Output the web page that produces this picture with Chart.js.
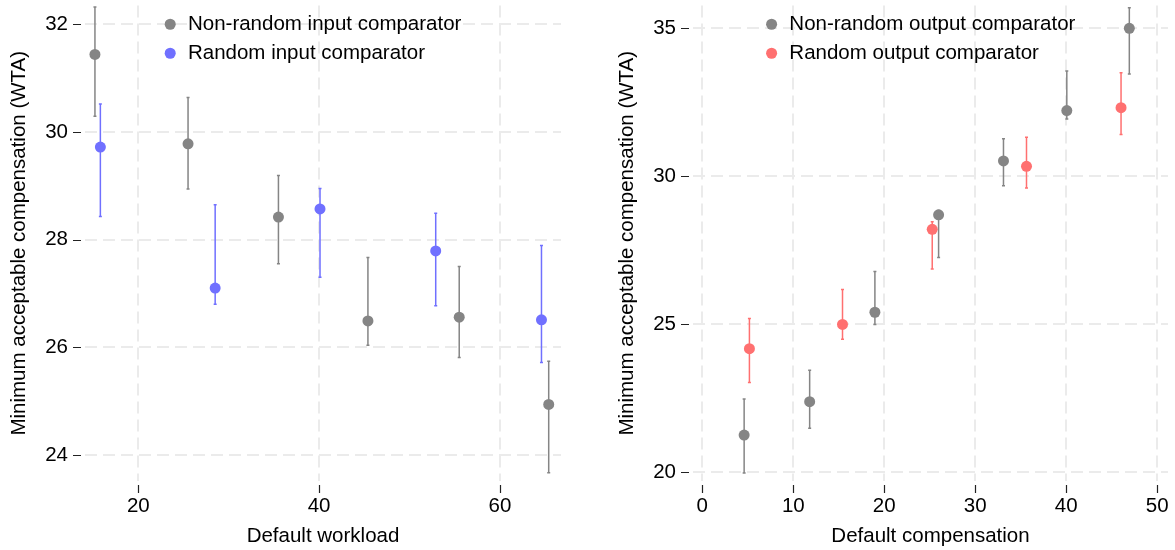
<!DOCTYPE html>
<html><head><meta charset="utf-8">
<script src="https://cdn.jsdelivr.net/npm/chart.js@4"></script>
<style>
html,body{margin:0;padding:0;background:#fff;width:1175px;height:550px;overflow:hidden}
canvas{position:absolute;top:0}
</style></head><body>
<canvas id="left" width="585" height="550" style="left:0"></canvas>
<canvas id="right" width="590" height="550" style="left:585px"></canvas>
<script>
// ---------- Left panel data ----------
const workloadNonRandom = [15.2, 25.5, 35.5, 45.4, 55.5, 65.4];
const wtaNonRandomInput = [31.44, 29.78, 28.42, 26.49, 26.56, 24.94];
const loNonRandomInput  = [30.29, 28.94, 27.55, 26.04, 25.81, 23.67];
const hiNonRandomInput  = [32.32, 30.64, 29.19, 27.67, 27.50, 25.74];

const workloadRandom = [15.8, 28.5, 40.1, 52.9, 64.6];
const wtaRandomInput = [29.72, 27.10, 28.57, 27.79, 26.51];
const loRandomInput  = [28.43, 26.80, 27.30, 26.77, 25.72];
const hiRandomInput  = [30.52, 28.65, 28.95, 28.49, 27.89];

const leftXTicks = [20, 40, 60];
const leftYTicks = [24, 26, 28, 30, 32];

// ---------- Right panel data ----------
const compNonRandom = [4.6, 11.8, 18.97, 25.97, 33.1, 40.06, 46.93];
const wtaNonRandomOutput = [21.26, 22.39, 25.41, 28.70, 30.52, 32.22, 35.0];
const loNonRandomOutput  = [19.98, 21.49, 25.0, 27.26, 29.68, 31.94, 33.46];
const hiNonRandomOutput  = [22.48, 23.45, 26.79, 28.85, 31.27, 33.56, 35.69];

const compRandom = [5.18, 15.41, 25.27, 35.63, 46.02];
const wtaRandomOutput = [24.18, 25.0, 28.21, 30.34, 32.32];
const loRandomOutput  = [23.04, 24.50, 26.87, 29.61, 31.41];
const hiRandomOutput  = [25.20, 26.18, 28.47, 31.32, 33.50];

const rightXTicks = [0, 10, 20, 30, 40, 50];
const rightYTicks = [20, 25, 30, 35];

const yTitle = 'Minimum acceptable compensation (WTA)';

// ---------- styling ----------
const FAMILY = '"Liberation Sans", Arial, Helvetica, sans-serif';
const FS = 20.5;
const GRAY = '#858585', BLUE = '#7070ff', RED = '#ff7070';
const GRID = '#ebebeb';

const pts = (xs, ys) => xs.map((x, i) => ({x, y: ys[i]}));

const errorBars = {
  id: 'errorBars',
  beforeDatasetsDraw(chart) {
    const {ctx, scales: {x, y}} = chart;
    ctx.save();
    chart.data.datasets.forEach(ds => {
      ctx.strokeStyle = ds.borderColor;
      ctx.lineWidth = 1.5;
      ds.data.forEach((p, i) => {
        const px = x.getPixelForValue(p.x);
        const p1 = y.getPixelForValue(ds.errLo[i]);
        const p2 = y.getPixelForValue(ds.errHi[i]);
        ctx.beginPath();
        ctx.moveTo(px, p1); ctx.lineTo(px, p2);
        ctx.moveTo(px - 1.5, p1); ctx.lineTo(px + 1.5, p1);
        ctx.moveTo(px - 1.5, p2); ctx.lineTo(px + 1.5, p2);
        ctx.stroke();
      });
    });
    ctx.restore();
  }
};

const tickMarks = {
  id: 'tickMarks',
  afterDraw(chart) {
    const {ctx, chartArea: a, scales: {x, y}} = chart;
    ctx.save();
    ctx.strokeStyle = '#222';
    ctx.lineWidth = 1.2;
    ctx.beginPath();
    y.ticks.forEach(t => {
      const py = Math.round(y.getPixelForValue(t.value)) + 0.5;
      ctx.moveTo(a.left - 12, py); ctx.lineTo(a.left - 4, py);
    });
    x.ticks.forEach(t => {
      const px = Math.round(x.getPixelForValue(t.value)) + 0.5;
      ctx.moveTo(px, a.bottom + 4); ctx.lineTo(px, a.bottom + 12);
    });
    ctx.stroke();
    ctx.restore();
  }
};

const legendMover = {
  id: 'legendMover',
  afterLayout(chart, args, opts) {
    const lg = chart.legend;
    if (!lg) return;
    lg.left = chart.chartArea.left + opts.offsetX;
    lg.top = opts.top;
  }
};

function makeChart(id, c) {
  const font = {family: FAMILY, size: FS};
  const tickFont = {family: FAMILY, size: FS, lineHeight: 0.15};
  return new Chart(document.getElementById(id), {
    type: 'scatter',
    data: {datasets: c.datasets.map(d => ({
      label: d.label,
      data: d.data,
      errLo: d.lo, errHi: d.hi,
      backgroundColor: d.color,
      borderColor: d.color,
      borderWidth: 0,
      pointRadius: 5.5,
      pointHoverRadius: 5.5,
      pointBackgroundColor: d.color,
      pointBorderWidth: 0,
      pointStyle: 'circle'
    }))},
    options: {
      responsive: false,
      animation: false,
      devicePixelRatio: 1,
      layout: {padding: {left: 0, top: 2, right: c.padRight, bottom: 0}},
      plugins: {
        tooltip: {enabled: false},
        legend: {
          position: 'chartArea',
          align: 'start',
          labels: {usePointStyle: true, boxWidth: 15, boxHeight: 7.8, padding: 8.5, font, color: '#000'}
        },
        legendMover: {offsetX: c.legendOffset, top: 5.5}
      },
      scales: {
        x: {
          type: 'linear', min: c.xMin, max: c.xMax,
          afterBuildTicks: s => { s.ticks = c.xTicks.map(v => ({value: v})); },
          afterFit: s => { s.height = 69; },
          grid: {color: GRID, lineWidth: 2, drawTicks: true, tickLength: 13.4, tickColor: 'rgba(0,0,0,0)', borderDash: [12, 6]},
          border: {display: false, dash: [12, 6]},
          ticks: {padding: 0, font, color: '#000', maxRotation: 0, autoSkip: false},
          title: {display: true, text: c.xTitle, font, color: '#000', padding: {top: 0, bottom: 1.7}}
        },
        y: {
          type: 'linear', min: c.yMin, max: c.yMax,
          afterBuildTicks: s => { s.ticks = c.yTicks.map(v => ({value: v})); },
          afterFit: s => { s.width = c.axisWidth; },
          grid: {color: GRID, lineWidth: 2, drawTicks: true, tickLength: 17, tickColor: 'rgba(0,0,0,0)', borderDash: [12, 6]},
          border: {display: false, dash: [12, 6]},
          ticks: {padding: 0, font: tickFont, color: '#000', autoSkip: false},
          title: {display: true, text: yTitle, font, color: '#000', padding: {top: c.yTitlePad, bottom: 0}}
        }
      }
    },
    plugins: [errorBars, tickMarks, legendMover]
  });
}

makeChart('left', {
  datasets: [
    {label: 'Non-random input comparator', data: pts(workloadNonRandom, wtaNonRandomInput), lo: loNonRandomInput, hi: hiNonRandomInput, color: GRAY},
    {label: 'Random input comparator', data: pts(workloadRandom, wtaRandomInput), lo: loRandomInput, hi: hiRandomInput, color: BLUE}
  ],
  xMin: 14.1, xMax: 66.76, yMin: 23.517, yMax: 32.349,
  xTicks: leftXTicks, yTicks: leftYTicks,
  xTitle: 'Default workload',
  padRight: 24, axisWidth: 85, yTitlePad: 7.2, legendOffset: 69.2
});

makeChart('right', {
  datasets: [
    {label: 'Non-random output comparator', data: pts(compNonRandom, wtaNonRandomOutput), lo: loNonRandomOutput, hi: hiNonRandomOutput, color: GRAY},
    {label: 'Random output comparator', data: pts(compRandom, wtaRandomOutput), lo: loRandomOutput, hi: hiRandomOutput, color: RED}
  ],
  xMin: -1.02, xMax: 51.18, yMin: 19.71, yMax: 35.77,
  xTicks: rightXTicks, yTicks: rightYTicks,
  xTitle: 'Default compensation',
  padRight: 7, axisWidth: 108, yTitlePad: 30.2, legendOffset: 62.6
});
</script>
</body></html>
